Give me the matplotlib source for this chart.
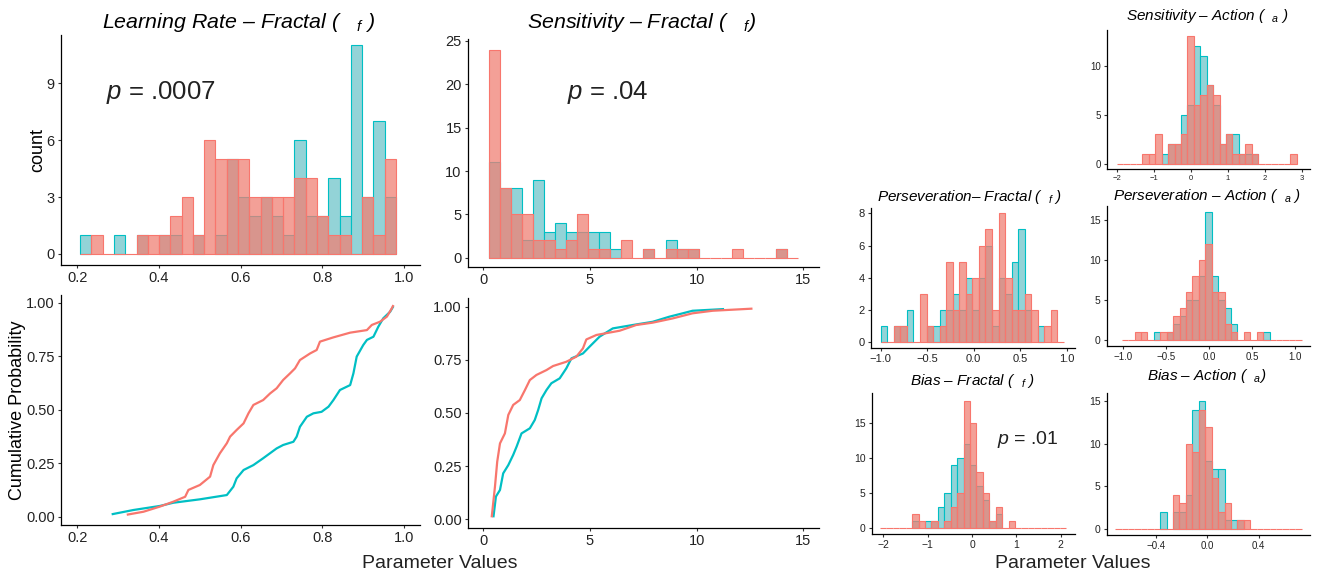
import numpy as np
import matplotlib
matplotlib.use("Agg")
import matplotlib.pyplot as plt
from matplotlib.colors import to_rgba

plt.rcParams['font.family'] = ['Liberation Sans', 'DejaVu Sans']
plt.rcParams['mathtext.fontset'] = 'custom'
plt.rcParams['mathtext.it'] = 'Liberation Sans:italic'
plt.rcParams['mathtext.rm'] = 'Liberation Sans'

TEAL = '#00BFC4'
RED = '#F8766D'
TEAL_FILL = '#93D3D7'
RED_FILL = to_rgba('#F08074', 0.75)

# ---------------- data: histogram counts (teal group, red group) ----------------
lr_range = (0.207, 0.980)
lr_teal = [1, 0, 0, 1, 0, 1, 0, 1, 1, 0, 1, 0, 1, 5, 3, 2, 3, 2, 1, 6, 2, 2, 4, 2, 11, 3, 7, 3]
lr_red = [0, 1, 0, 0, 0, 1, 1, 1, 2, 3, 1, 6, 5, 5, 5, 3, 3, 3, 3, 4, 4, 2, 1, 1, 0, 3, 1, 5]

sens_range = (0.265, 14.75)
sens_teal = [11, 8, 8, 2, 9, 3, 4, 3, 3, 3, 3, 1, 0, 0, 1, 0, 2, 1, 1, 0, 0, 0, 0, 0, 0, 0, 1, 0]
sens_red = [24, 8, 5, 5, 2, 2, 1, 2, 5, 1, 1, 0, 2, 0, 1, 0, 1, 1, 1, 0, 0, 0, 1, 0, 0, 0, 1, 0]

persF_range = (-1.0, 0.971)
persF_teal = [1, 0, 1, 1, 2, 0, 0, 1, 1, 2, 2, 3, 2, 4, 2, 4, 6, 1, 4, 3, 5, 7, 2, 0, 1, 0, 0, 0]
persF_red = [0, 0, 1, 1, 0, 0, 3, 1, 0, 1, 5, 2, 5, 3, 4, 6, 7, 2, 8, 4, 2, 2, 3, 2, 0, 1, 2, 0]

biasF_range = (-2.075, 2.13)
biasF_teal = [0, 0, 0, 0, 0, 1, 0, 1, 1, 3, 5, 9, 10, 12, 9, 6, 4, 1, 2, 0, 0, 0, 0, 0, 0, 0, 0, 0, 0]
biasF_red = [0, 0, 0, 0, 0, 2, 1, 0, 1, 0, 1, 3, 5, 18, 15, 8, 5, 1, 3, 0, 1, 0, 0, 0, 0, 0, 0, 0, 0]

sensA_range = (-2.018, 2.868)
sensA_teal = [0, 0, 0, 0, 0, 0, 0, 1, 2, 2, 5, 6, 12, 11, 8, 6, 2, 3, 3, 1, 1, 1, 0, 0, 0, 0, 0, 0]
sensA_red = [0, 0, 0, 0, 1, 1, 3, 0, 2, 2, 3, 13, 6, 7, 8, 7, 2, 3, 1, 1, 2, 1, 0, 0, 0, 0, 0, 1]

persA_range = (-1.019, 1.075)
persA_teal = [0, 0, 0, 0, 0, 1, 0, 1, 2, 3, 5, 5, 8, 16, 8, 5, 4, 2, 0, 0, 0, 0, 1, 0, 0, 0, 0, 0]
persA_red = [0, 0, 1, 1, 0, 0, 1, 1, 3, 4, 6, 8, 10, 12, 6, 6, 2, 1, 0, 1, 0, 1, 0, 0, 0, 0, 0, 0]

biasA_range = (-0.717, 0.736)
biasA_teal = [0, 0, 0, 0, 0, 0, 0, 2, 0, 2, 2, 4, 14, 15, 8, 7, 7, 1, 1, 1, 0, 0, 0, 0, 0, 0, 0, 0, 0]
biasA_red = [0, 0, 0, 0, 0, 0, 0, 0, 0, 4, 3, 10, 9, 14, 12, 6, 2, 3, 0, 1, 1, 0, 0, 0, 0, 0, 0, 0, 0]

# ---------------- data: cumulative curves (x, probability) ----------------
lr_cdf_teal_x = [0.284, 0.337, 0.402, 0.435, 0.500, 0.566, 0.582, 0.590, 0.607, 0.631, 0.655, 0.688,
                 0.704, 0.729, 0.737, 0.745, 0.762, 0.778, 0.798, 0.815, 0.827, 0.843, 0.868, 0.876,
                 0.884, 0.900, 0.909, 0.925, 0.937, 0.949, 0.966, 0.974]
lr_cdf_teal_y = [0.011, 0.031, 0.050, 0.065, 0.081, 0.101, 0.140, 0.179, 0.218, 0.241, 0.273, 0.319,
                 0.335, 0.350, 0.374, 0.420, 0.467, 0.483, 0.490, 0.514, 0.545, 0.592, 0.615, 0.670,
                 0.748, 0.802, 0.826, 0.841, 0.888, 0.927, 0.958, 0.984]
lr_cdf_red_x = [0.321, 0.362, 0.402, 0.435, 0.464, 0.472, 0.500, 0.525, 0.533, 0.549, 0.566, 0.574,
                0.590, 0.607, 0.619, 0.631, 0.655, 0.672, 0.688, 0.704, 0.721, 0.733, 0.745, 0.770,
                0.786, 0.794, 0.827, 0.868, 0.909, 0.921, 0.941, 0.958, 0.970, 0.974]
lr_cdf_red_y = [0.009, 0.023, 0.047, 0.070, 0.093, 0.125, 0.148, 0.187, 0.241, 0.296, 0.343, 0.374,
                0.405, 0.436, 0.483, 0.522, 0.545, 0.576, 0.600, 0.639, 0.670, 0.693, 0.732, 0.763,
                0.779, 0.818, 0.838, 0.860, 0.872, 0.896, 0.911, 0.935, 0.974, 0.989]

sens_cdf_teal_x = [0.47, 0.59, 0.78, 0.93, 1.17, 1.40, 1.56, 1.79, 2.18, 2.41, 2.57, 2.73, 2.96, 3.19,
                   3.58, 3.89, 4.13, 4.67, 4.98, 5.45, 6.07, 7.01, 7.94, 8.72, 9.35, 9.81, 11.29]
sens_cdf_teal_y = [0.009, 0.107, 0.138, 0.216, 0.255, 0.303, 0.342, 0.404, 0.428, 0.467, 0.514, 0.569,
                   0.608, 0.640, 0.663, 0.710, 0.757, 0.780, 0.812, 0.859, 0.898, 0.914, 0.929, 0.953,
                   0.969, 0.981, 0.989]
sens_cdf_red_x = [0.39, 0.545, 0.65, 0.78, 1.01, 1.17, 1.40, 1.71, 1.95, 2.18, 2.49, 2.96, 3.27, 3.89,
                  4.36, 4.67, 4.83, 5.30, 6.39, 7.17, 7.94, 8.88, 9.81, 10.75, 12.62]
sens_cdf_red_y = [0.009, 0.154, 0.271, 0.357, 0.404, 0.491, 0.538, 0.561, 0.608, 0.655, 0.679, 0.702,
                  0.721, 0.741, 0.765, 0.804, 0.846, 0.867, 0.887, 0.914, 0.925, 0.945, 0.969, 0.981,
                  0.991]

W, H = 1317, 575
fig = plt.figure(figsize=(W / 100, H / 100), dpi=100)

TICKC = '#222222'


def rect(l, t, r, b):
    return [l / W, 1 - b / H, (r - l) / W, (b - t) / H]


def style(ax, xlim, ylim, xticks, xlabels, yticks, ylabels, xts, yts):
    ax.set_xlim(*xlim)
    ax.set_ylim(*ylim)
    ax.set_xticks(xticks)
    ax.set_xticklabels(xlabels)
    ax.set_yticks(yticks)
    ax.set_yticklabels(ylabels)
    for s in ('top', 'right'):
        ax.spines[s].set_visible(False)
    for s in ('left', 'bottom'):
        ax.spines[s].set_linewidth(0.9)
        ax.spines[s].set_color('black')
    ax.tick_params(axis='x', length=2.5, width=0.8, color='#333333', labelsize=xts, labelcolor=TICKC, pad=2)
    ax.tick_params(axis='y', length=2.5, width=0.8, color='#333333', labelsize=yts, labelcolor=TICKC, pad=2)
    ax.patch.set_alpha(0)


def hist(ax, rng, teal, red):
    teal = np.asarray(teal)
    red = np.asarray(red)
    n = len(teal)
    w = (rng[1] - rng[0]) / n
    lefts = rng[0] + w * np.arange(n)
    nz = teal > 0
    ax.bar(lefts[nz], teal[nz], width=w, align='edge', facecolor=TEAL_FILL,
           edgecolor=TEAL, linewidth=0.8)
    ax.bar(lefts, red, width=w, align='edge', facecolor=RED_FILL,
           edgecolor=RED, linewidth=0.8)


# --- Learning rate histogram ---
ax = fig.add_axes(rect(61, 35, 420, 265))
hist(ax, lr_range, lr_teal, lr_red)
style(ax, (0.160, 1.039), (-0.58, 11.53), [0.2, 0.4, 0.6, 0.8, 1.0], ['0.2', '0.4', '0.6', '0.8', '1.0'],
      [0, 3, 6, 9], ['0', '3', '6', '9'], 10.5, 10.5)

# --- Learning rate CDF ---
ax = fig.add_axes(rect(61, 295, 420, 525))
ax.plot(lr_cdf_teal_x, lr_cdf_teal_y, color=TEAL, lw=1.6, solid_capstyle='butt')
ax.plot(lr_cdf_red_x, lr_cdf_red_y, color=RED, lw=1.6, solid_capstyle='butt')
style(ax, (0.160, 1.039), (-0.039, 1.036), [0.2, 0.4, 0.6, 0.8, 1.0], ['0.2', '0.4', '0.6', '0.8', '1.0'],
      [0, 0.25, 0.5, 0.75, 1.0], ['0.00', '0.25', '0.50', '0.75', '1.00'], 10.5, 10.5)

# --- Sensitivity histogram ---
ax = fig.add_axes(rect(468, 39, 819, 267))
hist(ax, sens_range, sens_teal, sens_red)
style(ax, (-0.72, 15.74), (-1.07, 25.23), [0, 5, 10, 15], ['0', '5', '10', '15'],
      [0, 5, 10, 15, 20, 25], ['0', '5', '10', '15', '20', '25'], 10.5, 10.5)

# --- Sensitivity CDF ---
ax = fig.add_axes(rect(468, 298, 819, 528))
ax.plot(sens_cdf_teal_x, sens_cdf_teal_y, color=TEAL, lw=1.6, solid_capstyle='butt')
ax.plot(sens_cdf_red_x, sens_cdf_red_y, color=RED, lw=1.6, solid_capstyle='butt')
style(ax, (-0.72, 15.74), (-0.041, 1.041), [0, 5, 10, 15], ['0', '5', '10', '15'],
      [0, 0.25, 0.5, 0.75, 1.0], ['0.00', '0.25', '0.50', '0.75', '1.00'], 10.5, 10.5)

# --- Perseveration fractal ---
ax = fig.add_axes(rect(871, 208, 1075, 348))
hist(ax, persF_range, persF_teal, persF_red)
style(ax, (-1.104, 1.089), (-0.35, 8.33), [-1, -0.5, 0, 0.5, 1.0], ['\u22121.0', '\u22120.5', '0.0', '0.5', '1.0'],
      [0, 2, 4, 6, 8], ['0', '2', '4', '6', '8'], 8, 8)

# --- Bias fractal ---
ax = fig.add_axes(rect(872, 393, 1075, 534))
hist(ax, biasF_range, biasF_teal, biasF_red)
style(ax, (-2.255, 2.322), (-0.81, 19.2), [-2, -1, 0, 1, 2], ['\u22122', '\u22121', '0', '1', '2'],
      [0, 5, 10, 15], ['0', '5', '10', '15'], 7.5, 7.5)

# --- Sensitivity action ---
ax = fig.add_axes(rect(1107, 30, 1310, 169))
hist(ax, sensA_range, sensA_teal, sensA_red)
style(ax, (-2.28, 3.225), (-0.54, 13.63), [-2, -1, 0, 1, 2, 3], ['\u22122', '\u22121', '0', '1', '2', '3'],
      [0, 5, 10], ['0', '5', '10'], 5.5, 7)

# --- Perseveration action ---
ax = fig.add_axes(rect(1107, 206, 1310, 346))
hist(ax, persA_range, persA_teal, persA_red)
style(ax, (-1.19, 1.171), (-0.71, 16.75), [-1, -0.5, 0, 0.5, 1.0], ['\u22121.0', '\u22120.5', '0.0', '0.5', '1.0'],
      [0, 5, 10, 15], ['0', '5', '10', '15'], 7, 7.5)

# --- Bias action ---
ax = fig.add_axes(rect(1107, 393, 1310, 535))
hist(ax, biasA_range, biasA_teal, biasA_red)
style(ax, (-0.78, 0.80), (-0.71, 15.98), [-0.4, 0.0, 0.4], ['\u22120.4', '0.0', '0.4'],
      [0, 5, 10, 15], ['0', '5', '10', '15'], 7, 7.5)


# ---------------- texts ----------------
def ftext(x, y, s, **kw):
    fig.text(x / W, 1 - y / H, s, **kw)


ftext(238, 22, 'Learning Rate \u2013 Fractal (   $_{f}$ )', fontsize=15.4, style='italic', ha='center', va='center')
ftext(641, 23, 'Sensitivity \u2013 Fractal (   $_{f}$)', fontsize=15.4, style='italic', ha='center', va='center')
ftext(970, 197, 'Perseveration\u2013 Fractal (  $_{f}$ )', fontsize=11, style='italic', ha='center', va='center')
ftext(972, 381, 'Bias \u2013 Fractal (  $_{f}$ )', fontsize=11, style='italic', ha='center', va='center')
ftext(1207, 16, 'Sensitivity \u2013 Action (  $_{a}$ )', fontsize=11, style='italic', ha='center', va='center')
ftext(1207, 196, 'Perseveration \u2013 Action (  $_{a}$ )', fontsize=11, style='italic', ha='center', va='center')
ftext(1207, 376, 'Bias \u2013 Action (  $_{a}$)', fontsize=11, style='italic', ha='center', va='center')

ftext(106, 93, '$p$ = .0007', fontsize=18.5, ha='left', va='center', color='#222222')
ftext(608, 93, '$p$ = .04', fontsize=18.5, ha='center', va='center', color='#222222')
ftext(1028, 440, '$p$ = .01', fontsize=14, ha='center', va='center', color='#222222')

ftext(38, 150, 'count', fontsize=13, rotation=90, ha='center', va='center')
ftext(18, 410, 'Cumulative Probability', fontsize=13, rotation=90, ha='center', va='center')
ftext(440, 563, 'Parameter Values', fontsize=14, ha='center', va='center', color='#222222')
ftext(1073, 563, 'Parameter Values', fontsize=14, ha='center', va='center', color='#222222')

fig.savefig('out.png', dpi=100)
